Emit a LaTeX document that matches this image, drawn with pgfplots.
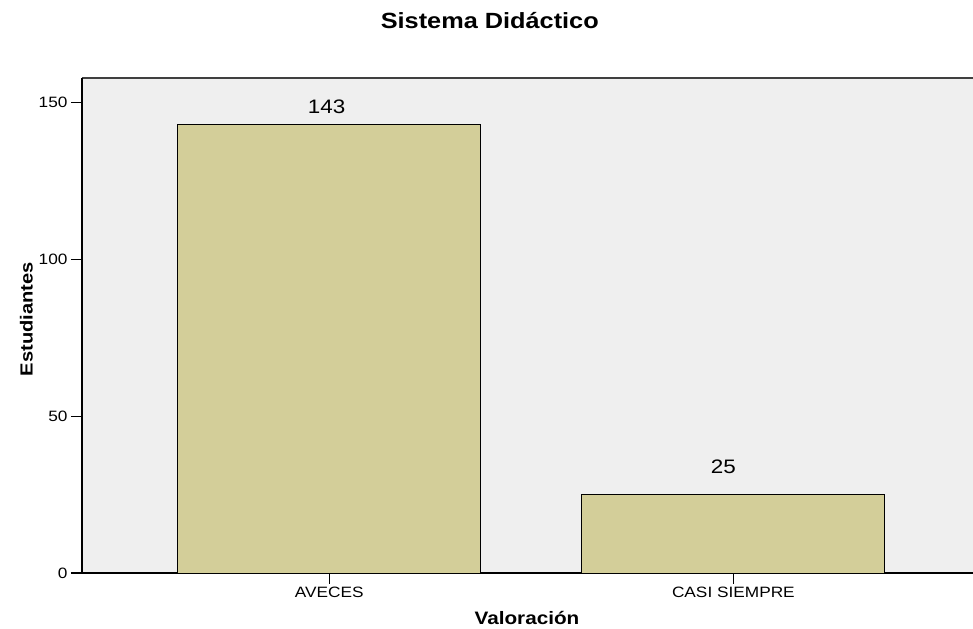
\documentclass[border=0pt]{standalone}
\usepackage{fontspec}
\setmainfont[FakeStretch=1.15]{Liberation Sans}
\usepackage{pgfplots}
\pgfplotsset{compat=1.18}
\definecolor{bgc}{HTML}{EFEFEF}
\definecolor{barc}{HTML}{D3CE99}
\definecolor{topc}{HTML}{404040}
\begin{document}
\begin{tikzpicture}
\path[use as bounding box] (0,0) rectangle (973bp,629bp);
\begin{axis}[
  at={(82bp,56bp)}, anchor=south west,
  scale only axis, width=891bp, height=495bp,
  xmin=-0.612, xmax=1.593, ymin=0, ymax=157.9,
  axis lines*=left,
  axis line style={-, line width=1.3bp, black},
  axis background/.style={fill=bgc},
  tick align=outside,
  major tick length=11bp,
  tick style={line width=1.2bp, black},
  xtick={0,1}, xticklabels={AVECES, CASI SIEMPRE},
  ytick={0,50,100,150},
  /pgf/number format/assume math mode=true,
  ticklabel style={font=\fontsize{15bp}{18bp}\selectfont},
  yticklabel style={xshift=0bp},
  bar width=0.75,
  clip=false,
]
\addplot[ybar, fill=barc, draw=black, line width=0.9bp,
  nodes near coords,
  every node near coord/.append style={font=\fontsize{19.5bp}{22bp}\selectfont, anchor=base, inner sep=0pt, yshift=11.4bp, xshift=-2.6bp}]
  coordinates {(0,143)};
\addplot[ybar, fill=barc, draw=black, line width=0.9bp,
  nodes near coords,
  every node near coord/.append style={font=\fontsize{19.5bp}{22bp}\selectfont, anchor=base, inner sep=0pt, yshift=21bp, xshift=-10bp}]
  coordinates {(1,25)};
\draw[topc, line width=2bp] (rel axis cs:0,1) -- (rel axis cs:1,1);
\draw[black, line width=1.3bp] (rel axis cs:0,0) -- (rel axis cs:0,1);
\end{axis}
\node[anchor=base, inner sep=0pt, font=\fontsize{22bp}{26bp}\selectfont\bfseries] at (489.8bp,600.7bp) {Sistema Didáctico};
\node[anchor=base, inner sep=0pt, rotate=90, font=\fontsize{17.5bp}{20bp}\selectfont\bfseries] at (32.7bp,310bp) {Estudiantes};
\node[anchor=base, inner sep=0pt, font=\fontsize{18bp}{20bp}\selectfont\bfseries] at (527bp,4.4bp) {Valoración};
\end{tikzpicture}
\end{document}
